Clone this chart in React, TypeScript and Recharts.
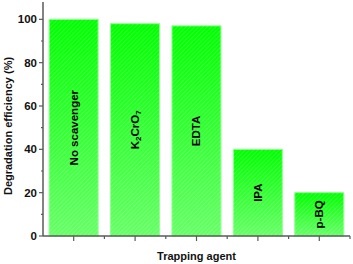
import { BarChart, Bar, XAxis, YAxis, LabelList } from 'recharts';

const agents = ['No scavenger', 'K2CrO7', 'EDTA', 'IPA', 'p-BQ'];
const efficiency = [100, 98, 97, 40, 20];
const yTicks = [0, 10, 20, 30, 40, 50, 60, 70, 80, 90, 100];

const data = agents.map((a, i) => ({ agent: a, value: efficiency[i] }));

const font = '"Liberation Sans", Arial, sans-serif';
const axisColor = '#5a5a5a';

const YTick = (props: any) => {
  const { x, y, payload } = props;
  const major = payload.value % 20 === 0;
  return (
    <g>
      <line x1={x} x2={x - (major ? 4 : 2)} y1={y} y2={y} stroke={axisColor} strokeWidth={1.2} />
      {major && (
        <text x={x - 6} y={y} textAnchor="end" dominantBaseline="central" fontFamily={font} fontWeight="bold" fontSize={11.5} fill="#111">
          {payload.value}
        </text>
      )}
    </g>
  );
};

const XTick = (props: any) => {
  const { x, y, payload } = props;
  const half = payload.offset || 30.8;
  return (
    <g>
      <line x1={x} x2={x} y1={y} y2={y + 5} stroke={axisColor} strokeWidth={1.2} />
      <line x1={x + half} x2={x + half} y1={y} y2={y + 3} stroke={axisColor} strokeWidth={1.2} />
    </g>
  );
};

const HatchBar = (props: any) => {
  const { x, y, width, height } = props;
  return (
    <g>
      <rect x={x} y={y} width={width} height={height} fill="url(#barGrad)" stroke="#8cff8c" strokeWidth={1} />
      <rect x={x} y={y} width={width} height={height} fill="url(#hatch)" />
    </g>
  );
};

const BarLabel = (props: any) => {
  const { x, y, width, height, value } = props;
  const cx = x + width / 2;
  const cy = y + height / 2;
  const common = {
    x: cx,
    y: cy,
    textAnchor: 'middle' as const,
    dominantBaseline: 'central' as const,
    fontFamily: font,
    fontWeight: 'bold',
    fontSize: 11.5,
    fill: '#000',
    transform: `rotate(-90 ${cx} ${cy})`,
  };
  if (value === 'K2CrO7') {
    return (
      <text {...common}>
        K<tspan fontSize={8} dy={3}>2</tspan>
        <tspan dy={-3}>CrO</tspan>
        <tspan fontSize={8} dy={3}>7</tspan>
      </text>
    );
  }
  return <text {...common}>{value}</text>;
};

export default function App() {
  return (
    <div style={{ position: 'absolute', left: 0, top: 0, background: '#fff' }}>
      <BarChart width={353} height={264} data={data} margin={{ top: 2, right: 3, left: 0, bottom: 0 }} barCategoryGap="10%">
        <defs>
          <linearGradient id="barGrad" x1="0" y1="0" x2="0" y2="1">
            <stop offset="0%" stopColor="#00ff00" />
            <stop offset="100%" stopColor="#66ff66" />
          </linearGradient>
          <pattern id="hatch" width="3" height="3" patternUnits="userSpaceOnUse" patternTransform="rotate(45)">
            <line x1="0" y1="0" x2="0" y2="3" stroke="rgba(255,255,255,0.3)" strokeWidth="1" />
          </pattern>
        </defs>
        <XAxis
          dataKey="agent"
          height={28}
          axisLine={{ stroke: axisColor, strokeWidth: 1.5 }}
          tickLine={false}
          tickSize={0}
          tickMargin={0}
          tick={<XTick />}
          interval={0}
          label={{
            content: (p: any) => {
              const vb = p.viewBox;
              return (
                <text x={vb.x + vb.width / 2} y={256} textAnchor="middle" dominantBaseline="central" fontFamily={font} fontWeight="bold" fontSize={11} fill="#111">
                  Trapping agent
                </text>
              );
            },
          }}
        />
        <XAxis xAxisId="top" dataKey="agent" orientation="top" height={0} tick={false} tickLine={false} axisLine={{ stroke: axisColor, strokeWidth: 1.5 }} />
        <YAxis
          width={43}
          domain={[0, 108]}
          ticks={yTicks}
          interval={0}
          axisLine={{ stroke: axisColor, strokeWidth: 1.5 }}
          tickLine={false}
          tickSize={0}
          tickMargin={0}
          tick={<YTick />}
          label={{
            content: () => (
              <text x={8} y={126} textAnchor="middle" dominantBaseline="central" transform="rotate(-90 8 126)" fontFamily={font} fontWeight="bold" fontSize={11} fill="#111">
                Degradation efficiency (%)
              </text>
            ),
          }}
        />
        <YAxis yAxisId="right" orientation="right" width={0} domain={[0, 108]} tick={false} tickLine={false} axisLine={{ stroke: axisColor, strokeWidth: 1.5 }} />
        <Bar dataKey="value" shape={<HatchBar />} isAnimationActive={false}>
          <LabelList dataKey="agent" content={<BarLabel />} />
        </Bar>
      </BarChart>
    </div>
  );
}
